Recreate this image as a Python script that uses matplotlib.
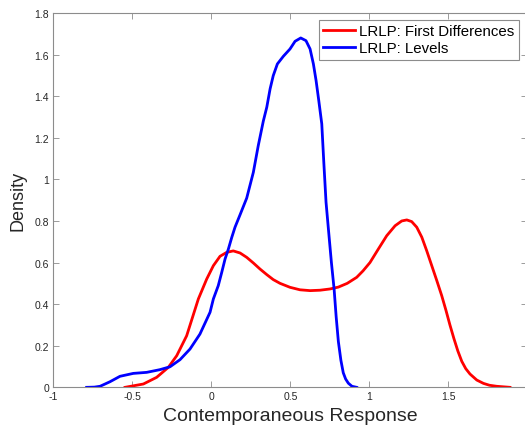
import matplotlib
matplotlib.use("Agg")
import matplotlib.pyplot as plt

plt.rcParams["font.family"] = ["Liberation Sans", "DejaVu Sans"]

# kernel density estimates of the contemporaneous response
x_diff = [-0.546, -0.43, -0.346, -0.272, -0.219, -0.156, -0.082, -0.029, 0.013, 0.055,
          0.097, 0.139, 0.182, 0.224, 0.266, 0.308, 0.351, 0.392, 0.435, 0.498,
          0.561, 0.625, 0.688, 0.751, 0.804, 0.86, 0.92, 0.96, 1.004, 1.057,
          1.11, 1.163, 1.205, 1.237, 1.268, 1.3, 1.332, 1.363, 1.395, 1.427,
          1.458, 1.485, 1.51, 1.535, 1.56, 1.585, 1.61, 1.637, 1.68, 1.722,
          1.76, 1.806, 1.89]
y_diff = [0.0, 0.016, 0.048, 0.096, 0.152, 0.248, 0.425, 0.521, 0.585, 0.63,
          0.649, 0.656, 0.646, 0.625, 0.598, 0.569, 0.542, 0.518, 0.5, 0.481,
          0.469, 0.465, 0.467, 0.473, 0.482, 0.5, 0.529, 0.56, 0.6, 0.665,
          0.729, 0.777, 0.8, 0.805, 0.797, 0.77, 0.722, 0.657, 0.585, 0.513,
          0.441, 0.37, 0.3, 0.235, 0.175, 0.125, 0.09, 0.064, 0.035, 0.019,
          0.01, 0.005, 0.0]

x_lev = [-0.789, -0.74, -0.704, -0.641, -0.578, -0.494, -0.409, -0.325, -0.261, -0.198,
         -0.135, -0.072, -0.008, 0.013, 0.044, 0.066, 0.087, 0.108, 0.129, 0.15,
         0.182, 0.224, 0.266, 0.297, 0.329, 0.351, 0.372, 0.392, 0.418, 0.456,
         0.498, 0.53, 0.566, 0.599, 0.625, 0.646, 0.663, 0.68, 0.699, 0.712,
         0.726, 0.741, 0.76, 0.777, 0.79, 0.804, 0.82, 0.835, 0.85, 0.867,
         0.89, 0.92]
y_lev = [0.0, 0.001, 0.005, 0.027, 0.053, 0.067, 0.072, 0.085, 0.099, 0.133,
         0.184, 0.256, 0.361, 0.425, 0.489, 0.553, 0.617, 0.665, 0.72, 0.77,
         0.83, 0.91, 1.034, 1.162, 1.28, 1.347, 1.435, 1.499, 1.555, 1.592,
         1.627, 1.664, 1.68, 1.667, 1.627, 1.555, 1.475, 1.379, 1.267, 1.08,
         0.89, 0.761, 0.6, 0.473, 0.34, 0.22, 0.13, 0.07, 0.04, 0.02,
         0.005, 0.0]

xticks = [-1, -0.5, 0, 0.5, 1, 1.5, 2]
xtick_labels = ["-1", "-0.5", "0", "0.5", "1", "1.5", "2"]
yticks = [0, 0.2, 0.4, 0.6, 0.8, 1, 1.2, 1.4, 1.6, 1.8]
ytick_labels = ["0", "0.2", "0.4", "0.6", "0.8", "1", "1.2", "1.4", "1.6", "1.8"]

fig = plt.figure(figsize=(5.25, 4.31), dpi=100)
ax = fig.add_axes([0.1015, 0.099, 0.903, 0.8685])

ax.plot(x_diff, y_diff, color="#ff0000", lw=2, label="LRLP: First Differences",
        solid_joinstyle="round")
ax.plot(x_lev, y_lev, color="#0000ff", lw=2, label="LRLP: Levels",
        solid_joinstyle="round")

ax.set_xlim(-1, 2)
ax.set_ylim(0, 1.8)
ax.set_xticks(xticks)
ax.set_xticklabels(xtick_labels)
ax.set_yticks(yticks)
ax.set_yticklabels(ytick_labels)

axis_grey = "#8c8c8c"
for s in ax.spines.values():
    s.set_color(axis_grey)
    s.set_linewidth(0.8)
ax.tick_params(direction="in", length=4, width=0.6, color=axis_grey,
               labelsize=7.5, labelcolor="#262626", top=True, right=True, pad=3)

ax.set_xlabel("Contemporaneous Response", fontsize=14, color="#262626", labelpad=4)
ax.set_ylabel("Density", fontsize=13, color="#262626", labelpad=6)

leg = ax.legend(loc="upper right", bbox_to_anchor=(519 / 525, 1 - 20.7 / 431),
                bbox_transform=fig.transFigure, fontsize=10.8, handlelength=2.1,
                handletextpad=0.3, labelspacing=0.2, borderpad=0.3, borderaxespad=0,
                fancybox=False, framealpha=1)
leg.get_frame().set_edgecolor(axis_grey)
leg.get_frame().set_linewidth(0.8)

fig.savefig("out.png", dpi=100)
